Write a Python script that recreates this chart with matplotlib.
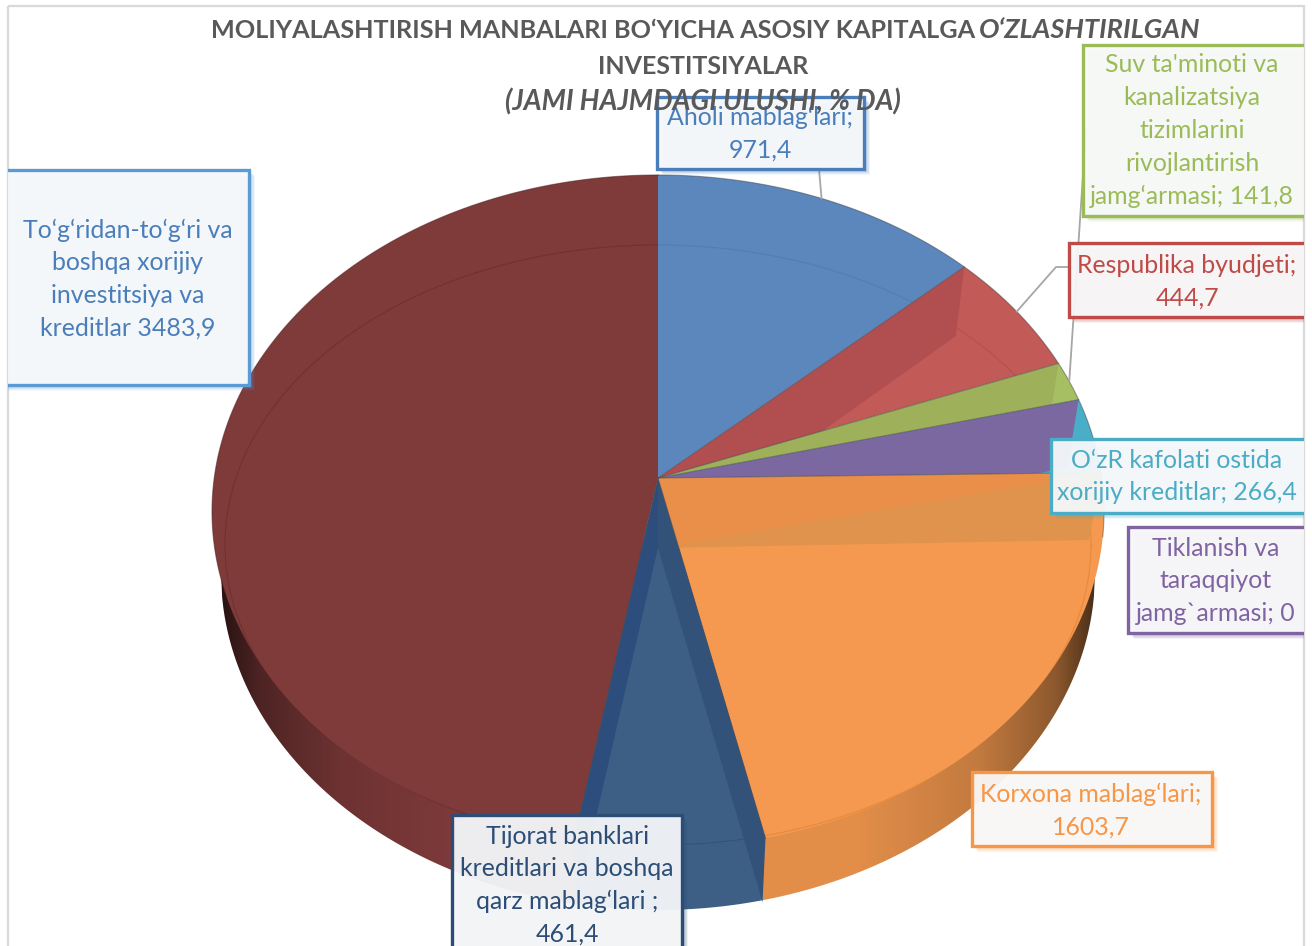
import numpy as np
import matplotlib
matplotlib.use("Agg")
import matplotlib.pyplot as plt
from matplotlib.patches import Polygon, Rectangle

# ---------- data ----------
categories = ["Aholi mablag‘lari", "Respublika byudjeti",
              "Suv ta'minoti va kanalizatsiya tizimlarini rivojlantirish jamg‘armasi",
              "Tiklanish va taraqqiyot jamg`armasi", "O‘zR kafolati ostida xorijiy kreditlar",
              "Korxona mablag‘lari", "Tijorat banklari kreditlari va boshqa qarz mablag‘lari",
              "To‘g‘ridan-to‘g‘ri va boshqa xorijiy investitsiya va kreditlar"]
values = [971.4, 444.7, 141.8, 0, 266.4, 1603.7, 461.4, 3483.9]
base_colors = ["#5b87bd", "#c25a58", "#a6bf62", "#7b68a0", "#4baec8", "#f4994f", "#3e5f85", "#7f3a3a"]
facet_colors = [None, "#b04e50", "#9eb059", "#7b68a0", None, "#e0934c", "#2f4f78", None]
line_colors = ["#4a74a8", "#a84846", "#8ea34e", "#665490", "#3a98b0", "#d67a28", "#2b4668", "#642828"]
label_lines = [["Aholi mablag‘lari;", "971,4"],
               ["Respublika byudjeti;", "444,7"],
               ["Suv ta'minoti va", "kanalizatsiya", "tizimlarini", "rivojlantirish", "jamg‘armasi; 141,8"],
               ["Tiklanish va", "taraqqiyot", "jamg`armasi; 0"],
               ["O‘zR kafolati ostida", "xorijiy kreditlar; 266,4"],
               ["Korxona mablag‘lari;", "1603,7"],
               ["Tijorat banklari", "kreditlari va boshqa", "qarz mablag‘lari ;", "461,4"],
               ["To‘g‘ridan-to‘g‘ri va", "boshqa xorijiy", "investitsiya va", "kreditlar 3483,9"]]
label_colors = ["#4a7ebb", "#be4b48", "#9bbb59", "#8064a2", "#4bacc6", "#f79646", "#2c4d75", "#4a7ebb"]
border_colors = ["#4a7ebb", "#be4b48", "#9bbb59", "#8064a2", "#4bacc6", "#f79646", "#2c4d75", "#5b9bd5"]
# label boxes: left, top, right, bottom, text centre x, first line y
label_boxes = [(657, 97, 864, 169, 760, 117), (1069, 243, 1340, 317, 1187, 265),
               (1083, 45, 1340, 216, 1192, 65), (1128, 527, 1340, 633, 1216, 548),
               (1051, 439, 1340, 513, 1177, 460), (972, 772, 1212, 846, 1091, 794),
               (452, 815, 682, 990, 567, 836), (-10, 170, 249, 385, 128, 230)]
title_color = "#595959"

# ---------- projection of the tilted disc ----------
AX, AY = 658.0, 478.0          # apex of the pie
APEX2 = (658.0, 548.0)         # apex of the lowered face
K, A, C = 0.0996, -285.6, 443.8


def rim(theta_deg):
    t = np.radians(theta_deg)
    u, v = np.sin(t), np.cos(t)
    w = 1 + K * v
    return AX + C * u / w, (A * v + AY) / w


def corner(p):
    return (AX + (p[0] - AX) * 0.973, p[1] + np.interp(p[1], [175, 848], [70, 64]))


fracs = np.array(values) / sum(values)
edges = np.concatenate([[0], np.cumsum(fracs) * 360])


def wedge_pts(a, b):
    th = np.linspace(a, b, max(2, int(abs(b - a) * 2) + 2))
    x, y = rim(th)
    return np.vstack([[AX, AY], np.column_stack([x, y])])


fig = plt.figure(figsize=(13.12, 9.46), dpi=100, facecolor="white")
ax = fig.add_axes([0, 0, 1, 1])
ax.set_xlim(0, 1312)
ax.set_ylim(946, 0)
ax.axis("off")
plt.rcParams["font.family"] = ["Lato", "DejaVu Sans"]
FRAME = Rectangle((8, 6.5), 1296, 945, fc="none", ec="#d9d9d9", lw=1.6, zorder=1)
ax.add_patch(FRAME)


# ---------- side wall ----------
def bottom_y(x):
    return 573 + 337 * np.sqrt(np.clip(1 - ((x - AX) / 437) ** 2, 0, 1))


def shade(t):
    return np.interp(t, [0, 0.45, 0.73, 0.91, 0.97, 1.0], [1, 1, 0.86, 0.62, 0.42, 0.32])


bx_or = corner(rim(edges[6]))[0]   # orange / navy seam
bx_nv = corner(rim(edges[7]))[0]   # navy / brown seam
walls = [(221, bx_nv, 7, True), (bx_nv, bx_or, 6, False), (bx_or, 1095, 5, True)]
for x0, x1, idx, shaded in walls:
    xs = np.linspace(x0, x1, 300)
    poly = np.vstack([[x0, 540], [x1, 540], np.column_stack([xs[::-1], bottom_y(xs[::-1])])])
    clip = Polygon(poly, closed=True, transform=ax.transData, fc="none", ec="none")
    ax.add_patch(clip)
    rgb = np.array(matplotlib.colors.to_rgb(base_colors[idx]))
    if idx == 5:
        rgb = rgb * 0.93
    f = shade(np.abs(xs - AX) / 437) if shaded else np.ones_like(xs)
    img = (rgb[None, None, :] * f[None, :, None]).clip(0, 1)
    im = ax.imshow(img, extent=(x0, x1, 930, 530), aspect="auto", zorder=2, interpolation="bilinear")
    im.set_clip_path(clip)
ax.set_xlim(0, 1312)
ax.set_ylim(946, 0)

# ---------- faces ----------
ell_t = np.linspace(0, 2 * np.pi, 720)
ell_x = AX + 433 * np.cos(ell_t)
ell_y = 545 + 300 * np.sin(ell_t)
carry = None
for i, val in enumerate(values):
    a, b = edges[i], edges[i + 1]
    if val == 0:
        carry = facet_colors[i]
        continue
    pts = wedge_pts(a, b)
    face = Polygon(pts, closed=True, fc=base_colors[i], ec="none", zorder=3)
    ax.add_patch(face)
    ln, = ax.plot(ell_x, ell_y, color=line_colors[i], lw=0.8, alpha=0.5, zorder=3.2)
    ln.set_clip_path(face)
    rs = rim(a)
    cs = corner(rs)
    fc = carry if carry else facet_colors[i]
    carry = None
    if fc and i != 6:
        fac = Polygon([(AX, AY), rs, cs, APEX2], closed=True, fc=fc, ec="none", zorder=3.4)
        ax.add_patch(fac)
        fac.set_clip_path(face)
        if i == 5:
            tri = Polygon([(AX, AY), rs, APEX2], closed=True, fc="#e98f4a", ec="none", zorder=3.5)
            ax.add_patch(tri)
            tri.set_clip_path(face)
    if i == 6:
        re_ = rim(b)
        ax.add_patch(Polygon([(AX, AY), rs, cs, APEX2], closed=True, fc="#33527a", ec="none", zorder=3.6))
        ax.add_patch(Polygon([(AX, AY), re_, corner(re_), APEX2], closed=True, fc="#2d4e7c", ec="none", zorder=3.6))

# dark seams along the wedge edges
for i, th in enumerate(edges[1:-1]):
    if values[i] == 0:
        continue
    p = rim(th)
    ax.plot([AX, p[0]], [AY, p[1]], color="#4d4d55", lw=0.8, alpha=0.55, zorder=3.8)
th = np.linspace(0, 100, 200)
ax.plot(*rim(th), color="#3a3a3a", lw=0.8, alpha=0.45, zorder=3.8)
th = np.linspace(250, 360, 200)
ax.plot(*rim(th), color="#4a2020", lw=0.8, alpha=0.5, zorder=3.8)

# ---------- leader lines ----------
mids = (edges[:-1] + edges[1:]) / 2
lead = "#a6a6a6"
p = rim(mids[0]); ax.plot([819, p[0]], [169, p[1]], color=lead, lw=1.3, zorder=4)
p = rim(mids[1]); ax.plot([1069, 1056, p[0]], [267, 267, p[1]], color=lead, lw=1.3, zorder=4)
p = rim(mids[2]); ax.plot([1086, p[0]], [130, p[1]], color=lead, lw=1.3, zorder=4)

# ---------- label boxes ----------
clip_rect = Rectangle((8, 6.5), 1296, 945, transform=ax.transData)
for i in range(len(values)):
    l, t, r, btm, cx, y0 = label_boxes[i]
    col = border_colors[i]
    for k in range(1, 8):
        s = Rectangle((l + k * 0.9, t + k * 0.9), r - l, btm - t, fc=col, ec="none",
                      alpha=0.07, zorder=5 + i * 0.1)
        ax.add_patch(s)
        s.set_clip_path(clip_rect)
    b = Rectangle((l, t), r - l, btm - t, fc=(0.975, 0.98, 0.985, 0.93), ec=col, lw=2.4,
                  zorder=5.05 + i * 0.1)
    ax.add_patch(b)
    b.set_clip_path(clip_rect)
    for j, s in enumerate(label_lines[i]):
        ax.text(cx, y0 + j * 32.8, s, color=label_colors[i], fontsize=17.9, ha="center",
                va="center", zorder=6)

# ---------- title ----------
tk = dict(color=title_color, fontweight="bold", va="center", zorder=7)
ax.text(975, 30, "MOLIYALASHTIRISH MANBALARI BO‘YICHA ASOSIY KAPITALGA", ha="right", fontsize=18.2, **tk)
ax.text(979, 30, "O‘ZLASHTIRILGAN", ha="left", fontstyle="italic", fontsize=19.6, **tk)
ax.text(703, 66, "INVESTITSIYALAR", ha="center", fontsize=18, **tk)
ax.text(703, 102, "(JAMI HAJMDAGI ULUSHI, % DA)", ha="center", fontstyle="italic", fontsize=19.9, **tk)

fig.savefig("out.png", dpi=100)
